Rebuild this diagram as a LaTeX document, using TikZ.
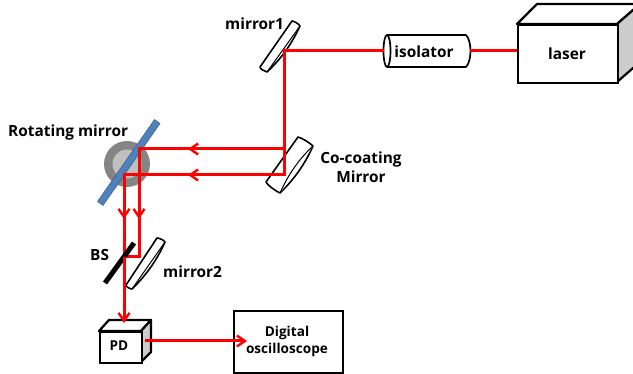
\documentclass[tikz,border=0pt]{standalone}
\usepackage{fontspec}
\setmainfont{Open Sans}
\usetikzlibrary{arrows.meta}
\definecolor{beam}{RGB}{255,0,0}
\definecolor{blueM}{RGB}{79,129,189}
\definecolor{blueE}{RGB}{56,93,138}
\tikzset{
  x=1pt,y=-1pt,
  lbl/.style={font=\bfseries\fontsize{15.4}{19}\selectfont,inner sep=0pt,text=black,align=center},
  lblsmall/.style={font=\bfseries\fontsize{13.6}{17}\selectfont,inner sep=0pt,align=center},
  boxed/.style={draw=black,line width=2.2pt,fill=white,inner sep=0pt,anchor=north west},
  side/.style={draw=black,line width=2.2pt,line join=round},
  mirrorshape/.style={draw=black,line width=1.6pt,fill=white,line join=round},
  ray/.style={draw=beam,line width=3pt},
  rayarrow/.style={ray,-{Straight Barb[length=8pt,width=11pt,line width=2.4pt]}},
}
\begin{document}
\begin{tikzpicture}
\useasboundingbox (0,0) rectangle (633,374);
\clip (0,0) rectangle (633,374);
\fill[white] (0,0) rectangle (633,374);

% rotating mirror disc
\node[circle,fill=black!48,minimum size=46pt,inner sep=0pt] (disc) at (127,164) {};
\node[circle,fill=black!25,minimum size=29pt,inner sep=0pt] (hub) at (127,164) {};
\draw[draw=blueE,fill=blueM,line width=0.5pt,line join=round]
  (97.5,201.5) -- (154.5,119.5) -- (160,123.5) -- (103,205.5) -- cycle;

% laser
\draw[side,fill=white] (517,24) -- (537,4) -- (640,4) -- (617,24) -- cycle;
\draw[side,fill=black!20] (617,24) -- (640,4) -- (640,62) -- (617,82) -- cycle;
\node[boxed,minimum width=100pt,minimum height=58pt] (laser) at (517,24) {};
\node[lbl] (lasertxt) at (567,54) {laser};

% isolator
\draw[side,line width=1.7pt,fill=white] (387,35) -- (466,35) .. controls (472,41) and (472,61) .. (466,67) -- (387,67);
\draw[line width=1.7pt] (387,51) ellipse [x radius=3.5, y radius=16];
\coordinate (isoE) at (470,51);
\coordinate (isoW) at (383.5,51);
\node[lbl] (isotxt) at (424,52) {isolator};

% mirrors
\draw[mirrorshape] (292,21) .. controls (294,21) and (299,24) .. (300,26) .. controls (292,43.6) and (281,59) .. (267,72) .. controls (264,71) and (260,69) .. (260,67) -- cycle;
\draw[mirrorshape,line width=1pt] (300,26) -- (267,72);

\draw[mirrorshape] (298,137) .. controls (302,138) and (310,143) .. (313,146) .. controls (305,164) and (294,179.6) .. (280,193) .. controls (276,191) and (268,186) .. (266,182) -- cycle;
\draw[mirrorshape,line width=1pt] (313,146) .. controls (299,159) and (288,175) .. (280,193);

\draw[mirrorshape] (157,238) .. controls (159,238) and (164,240) .. (165,242) .. controls (157,260) and (146,275.6) .. (132,289) .. controls (130,289) and (126,287) .. (126,285) -- cycle;
\draw[mirrorshape,line width=1pt] (165,242) -- (132,289);

% named beam corners
\coordinate (m1) at (284,51);
\coordinate (c1) at (284,149);
\coordinate (c2) at (284,175);
\coordinate (r1) at (139,149);
\coordinate (r2) at (124,175);
\coordinate (a1) at (188,149);
\coordinate (a2) at (188,175);
\coordinate (d1) at (139,219);
\coordinate (d2) at (124,219);
\coordinate (m2) at (139,257);
\coordinate (bs) at (124,257);

% PD
\draw[side,fill=white] (99,331) -- (109,320) -- (151,320) -- (141,331) -- cycle;
\draw[side,fill=black!20] (141,331) -- (151,320) -- (151,352) -- (141,362) -- cycle;
\node[boxed,minimum width=42pt,minimum height=31pt] (pd) at (99,331) {};
\node[lblsmall] (pdtxt) at (119,346) {PD};

% oscilloscope
\node[boxed,minimum width=109pt,minimum height=62pt] (osc) at (233,310) {};
\node[lblsmall] (osctxt) at (287,341.5) {Digital\\oscilloscope};

% beams
\draw[ray] (isoE) -- (isoE -| laser.west);
\draw[ray,line join=miter] (isoW) -- (m1) -- (c2) -- (r2) -- (d2);
\draw[ray,line join=miter] (c1) -- (r1) -- (m2) -- (bs);
\draw[rayarrow] (c1) -- (a1);
\draw[rayarrow] (c2) -- (a2);
\draw[rayarrow] (r1) -- (d1);
\draw[rayarrow] (r2) -- (d2);
\draw[ray] (d2) -- (bs);
\draw[black,line width=5pt] (105,283) -- (134,243);
\draw[rayarrow] (bs) -- (124,323);
\draw[rayarrow] (145,341) -- (247,341);

% labels
\node[lbl,anchor=west] (t1) at (225,24) {mirror1};
\node[lbl,anchor=west] (t2) at (8,133) {Rotating mirror};
\node[lbl] (t3) at (361,167.5) {Co-coating\\Mirror};
\node[lbl,anchor=west] (t4) at (90,255) {BS};
\node[lbl,anchor=west] (t5) at (163,272) {mirror2};
\end{tikzpicture}
\end{document}
